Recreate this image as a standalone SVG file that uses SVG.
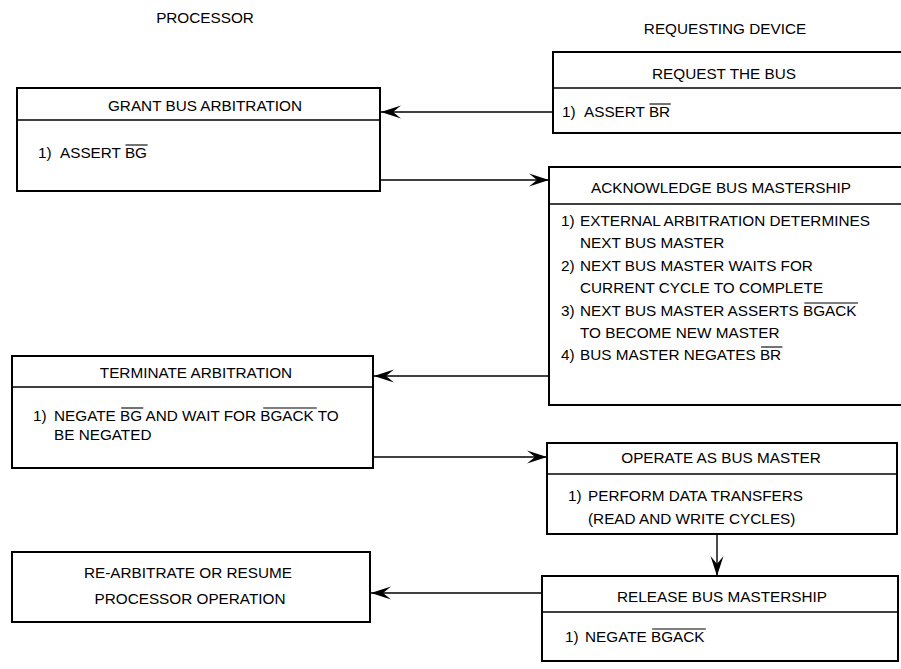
<svg xmlns="http://www.w3.org/2000/svg" width="901" height="669" viewBox="0 0 901 669">
<defs>
<style>
.box{fill:#fff;stroke:#000;stroke-width:2}
.div{stroke:#000;stroke-width:1.5}
.conn{stroke:#000;stroke-width:1.4;fill:none}
.ovl{stroke:#000;stroke-width:1.1}
text{font-family:"Liberation Sans",Arial,sans-serif;font-size:15.3px;fill:#000}
.c{text-anchor:middle}
</style>
<marker id="ah" markerUnits="userSpaceOnUse" markerWidth="22" markerHeight="14" viewBox="-21 -7 22 14" refX="0" refY="0" orient="auto">
<path d="M0,0 L-20,-6.5 L-12,0 L-20,6.5 Z" fill="#000"/>
</marker>
</defs>
<rect width="901" height="669" fill="#fff"/>

<text class="c" x="205" y="23">PROCESSOR</text>
<text class="c" x="725" y="34">REQUESTING DEVICE</text>

<g id="connectors">
<line class="conn" x1="553" y1="112" x2="381" y2="112" marker-end="url(#ah)"/>
<line class="conn" x1="380" y1="180" x2="549" y2="180" marker-end="url(#ah)"/>
<line class="conn" x1="549" y1="376" x2="374" y2="376" marker-end="url(#ah)"/>
<line class="conn" x1="373" y1="457" x2="547" y2="457" marker-end="url(#ah)"/>
<line class="conn" x1="717" y1="534" x2="717" y2="576" marker-end="url(#ah)"/>
<line class="conn" x1="542" y1="593" x2="371" y2="593" marker-end="url(#ah)"/>
</g>

<g id="request">
<rect class="box" x="553" y="52" width="360" height="81"/>
<line class="div" x1="553" y1="88" x2="901" y2="88"/>
<text class="c" x="724" y="79">REQUEST THE BUS</text>
<text x="562" y="117">1)</text>
<text x="584" y="117">ASSERT BR</text>
<line class="ovl" x1="649.5" y1="104" x2="670.8" y2="104"/>
</g>

<g id="grant">
<rect class="box" x="17" y="88" width="363" height="103"/>
<line class="div" x1="17" y1="120" x2="380" y2="120"/>
<text class="c" x="205" y="111">GRANT BUS ARBITRATION</text>
<text x="38" y="158">1)</text>
<text x="60" y="158">ASSERT BG</text>
<line class="ovl" x1="125.5" y1="145" x2="147.6" y2="145"/>
</g>

<g id="acknowledge">
<rect class="box" x="549" y="167" width="364" height="238"/>
<line class="div" x1="549" y1="204" x2="901" y2="204"/>
<text class="c" x="721" y="193">ACKNOWLEDGE BUS MASTERSHIP</text>
<text x="561" y="226">1)</text>
<text x="580" y="226">EXTERNAL ARBITRATION DETERMINES</text>
<text x="580" y="248">NEXT BUS MASTER</text>
<text x="561" y="271">2)</text>
<text x="580" y="271">NEXT BUS MASTER WAITS FOR</text>
<text x="580" y="293">CURRENT CYCLE TO COMPLETE</text>
<text x="561" y="316">3)</text>
<text x="580" y="316">NEXT BUS MASTER ASSERTS BGACK</text>
<line class="ovl" x1="804.4" y1="303" x2="858" y2="303"/>
<text x="580" y="338">TO BECOME NEW MASTER</text>
<text x="561" y="360">4)</text>
<text x="580" y="360">BUS MASTER NEGATES BR</text>
<line class="ovl" x1="761.1" y1="347" x2="782.4" y2="347"/>
</g>

<g id="terminate">
<rect class="box" x="12" y="356" width="361" height="112"/>
<line class="div" x1="12" y1="387" x2="373" y2="387"/>
<text class="c" x="196" y="378">TERMINATE ARBITRATION</text>
<text x="33" y="421">1)</text>
<text x="54" y="421">NEGATE BG AND WAIT FOR BGACK TO</text>
<line class="ovl" x1="121.2" y1="408" x2="143.3" y2="408"/>
<line class="ovl" x1="263.2" y1="408" x2="316.8" y2="408"/>
<text x="54" y="440">BE NEGATED</text>
</g>

<g id="operate">
<rect class="box" x="547" y="443" width="350" height="91"/>
<line class="div" x1="547" y1="474" x2="897" y2="474"/>
<text class="c" x="721" y="463">OPERATE AS BUS MASTER</text>
<text x="568" y="501">1)</text>
<text x="588" y="501">PERFORM DATA TRANSFERS</text>
<text x="588" y="524">(READ AND WRITE CYCLES)</text>
</g>

<g id="release">
<rect class="box" x="542" y="576" width="356" height="85"/>
<line class="div" x1="542" y1="612" x2="898" y2="612"/>
<text class="c" x="722" y="602">RELEASE BUS MASTERSHIP</text>
<text x="565" y="642">1)</text>
<text x="585" y="642">NEGATE BGACK</text>
<line class="ovl" x1="652.2" y1="629" x2="705.8" y2="629"/>
</g>

<g id="rearbitrate">
<rect class="box" x="12" y="552" width="358" height="70"/>
<text class="c" x="188" y="578">RE-ARBITRATE OR RESUME</text>
<text class="c" x="190" y="604">PROCESSOR OPERATION</text>
</g>
</svg>
